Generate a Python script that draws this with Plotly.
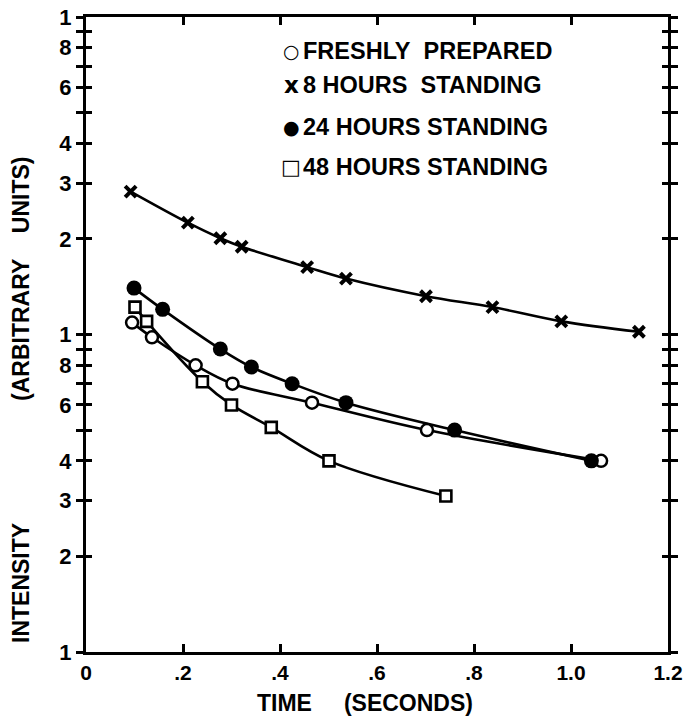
import plotly.graph_objects as go

# ---- data ----
fresh_t = [0.095, 0.136, 0.226, 0.302, 0.466, 0.703, 1.062]
fresh_i = [1.09, 0.98, 0.80, 0.70, 0.61, 0.50, 0.40]
h8_t = [0.092, 0.210, 0.277, 0.321, 0.456, 0.536, 0.701, 0.838, 0.980, 1.140]
h8_i = [2.82, 2.25, 2.01, 1.89, 1.63, 1.50, 1.32, 1.22, 1.10, 1.02]
h24_t = [0.099, 0.158, 0.277, 0.341, 0.425, 0.536, 0.760, 1.042]
h24_i = [1.40, 1.20, 0.90, 0.79, 0.70, 0.61, 0.50, 0.40]
h48_t = [0.101, 0.125, 0.240, 0.300, 0.382, 0.501, 0.742]
h48_i = [1.22, 1.10, 0.71, 0.60, 0.51, 0.40, 0.31]

series_names = ["FRESHLY\u00a0\u00a0PREPARED", "8 HOURS\u00a0\u00a0STANDING",
                "24 HOURS STANDING", "48 HOURS STANDING"]
legend_symbols = ["\u25cb", "x", "\u25cf", "\u25a1"]

x_tickvals = [0, 0.2, 0.4, 0.6, 0.8, 1.0, 1.2]
x_ticktext = ["0", ".2", ".4", ".6", ".8", "1.0", "1.2"]
y_tickvals = [0.1, 0.2, 0.3, 0.4, 0.5, 0.6, 0.7, 0.8, 0.9,
              1, 2, 3, 4, 5, 6, 7, 8, 9, 10]
y_ticktext = ["1", "2", "3", "4", "", "6", "", "8", "",
              "1", "2", "3", "4", "", "6", "", "8", "", "1"]

FONT = "Liberation Sans, Arial, sans-serif"
BLACK = "#000000"

fig = go.Figure()

series = [
    (fresh_t, fresh_i, dict(symbol="circle", size=12, color="white",
                            line=dict(color=BLACK, width=2.5))),
    (h8_t, h8_i, dict(symbol="x-thin", size=11, color=BLACK,
                      line=dict(color=BLACK, width=4))),
    (h24_t, h24_i, dict(symbol="circle", size=15, color=BLACK,
                        line=dict(color=BLACK, width=0))),
    (h48_t, h48_i, dict(symbol="square", size=11, color="white",
                        line=dict(color=BLACK, width=2.6))),
]

for (t, v, mk), name in zip(series, series_names):
    fig.add_trace(go.Scatter(x=t, y=v, mode="lines", name=name,
                             line=dict(color=BLACK, width=2.6, shape="spline",
                                       smoothing=1.0),
                             showlegend=False, hoverinfo="skip"))
for (t, v, mk), name in zip(series, series_names):
    fig.add_trace(go.Scatter(x=t, y=v, mode="markers", name=name, marker=mk,
                             yaxis="y2", showlegend=False))

ytickfont = dict(family=FONT, size=22, color=BLACK, weight="bold")
xtickfont = dict(family=FONT, size=21, color=BLACK, weight="bold")

fig.update_layout(
    width=684, height=718,
    margin=dict(l=86, r=16, t=17, b=66, autoexpand=False),
    paper_bgcolor="white", plot_bgcolor="white",
    showlegend=False,
    xaxis=dict(range=[0, 1.2], tickvals=x_tickvals, ticktext=x_ticktext,
               showgrid=False, zeroline=False, showline=True, linewidth=3,
               linecolor=BLACK, mirror="ticks", ticks="inside", ticklen=8,
               tickwidth=2.5, tickcolor=BLACK, tickfont=xtickfont,
               ticklabelstandoff=0, automargin=False,
               ticklabeloverflow="allow"),
    yaxis=dict(type="log", range=[-1, 1], tickvals=y_tickvals,
               ticktext=y_ticktext, showgrid=False, zeroline=False,
               showline=True, linewidth=3, linecolor=BLACK, mirror="ticks",
               ticks="outside", ticklen=7, tickwidth=2.5, tickcolor=BLACK,
               tickfont=ytickfont, automargin=False, ticklabeloverflow="allow"),
    yaxis2=dict(type="log", range=[-1, 1], tickvals=y_tickvals,
                overlaying="y", anchor="x", side="left",
                showticklabels=False, showgrid=False, zeroline=False,
                showline=True, linewidth=3, linecolor=BLACK, mirror="ticks",
                ticks="inside", ticklen=6, tickwidth=2.5, tickcolor=BLACK,
                automargin=False),
)

# legend drawn as text
legend_rows_y = [51, 85, 127, 167]  # pixel centres
plot_top, plot_bot, plot_left, plot_right = 17, 652, 86, 668
def py(p):
    return (plot_bot - p) / (plot_bot - plot_top)
def px(p):
    return (p - plot_left) / (plot_right - plot_left)

sym_sizes = [19, 23, 19, 21]
for name, sym, ry, ss in zip(series_names, legend_symbols, legend_rows_y, sym_sizes):
    fig.add_annotation(x=px(291), y=py(ry), xref="paper", yref="paper",
                       text=sym, showarrow=False, xanchor="center", yanchor="middle",
                       font=dict(family="DejaVu Sans, " + FONT, size=ss, color=BLACK,
                                 weight="bold"))
    fig.add_annotation(x=px(301), y=py(ry), xref="paper", yref="paper",
                       text=name, showarrow=False, xanchor="left", yanchor="middle",
                       font=dict(family=FONT, size=23.5, color=BLACK, weight="bold"))

titlefont = dict(family=FONT, size=23, color=BLACK, weight="bold")
fig.add_annotation(x=px(365), y=py(703), xref="paper", yref="paper",
                   text="TIME\u00a0\u00a0\u00a0\u00a0\u00a0(SECONDS)", showarrow=False,
                   xanchor="center", yanchor="middle", font=titlefont)
fig.add_annotation(x=px(21), y=py(583), xref="paper", yref="paper",
                   text="INTENSITY", textangle=-90, showarrow=False,
                   xanchor="center", yanchor="middle", font=titlefont)
fig.add_annotation(x=px(21), y=py(279), xref="paper", yref="paper",
                   text="(ARBITRARY\u00a0\u00a0\u00a0\u00a0UNITS)", textangle=-90, showarrow=False,
                   xanchor="center", yanchor="middle", font=titlefont)

fig.write_html("out.html")
